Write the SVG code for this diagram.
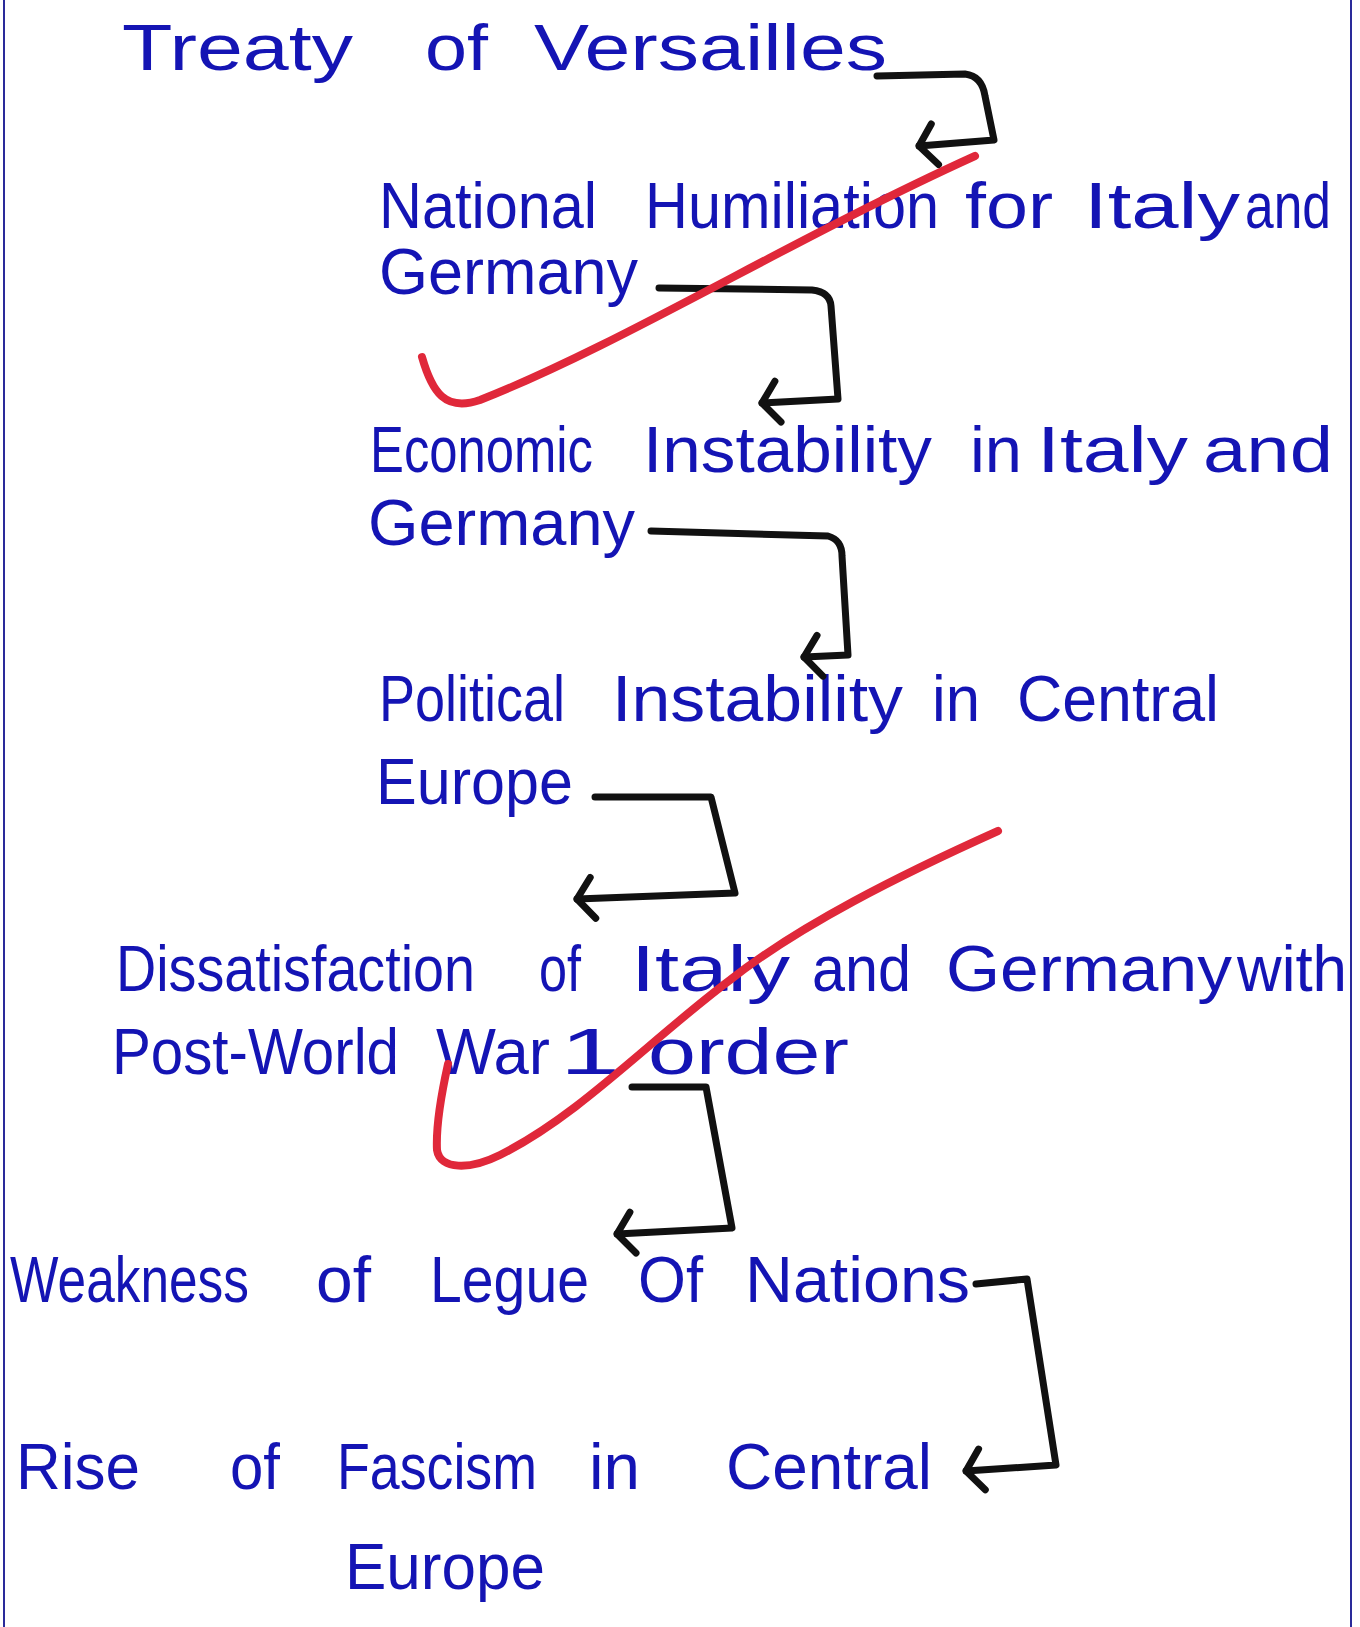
<svg xmlns="http://www.w3.org/2000/svg" width="1360" height="1627" viewBox="0 0 1360 1627">
<style>
.t{font-family:"Liberation Sans","DejaVu Sans",sans-serif;font-size:64px;fill:#1414b4}
.c{fill:none;stroke:#111;stroke-width:7;stroke-linecap:round;stroke-linejoin:round}
.r{fill:none;stroke:#e0283a;stroke-width:8;stroke-linecap:round;stroke-linejoin:round}
.b{stroke:#2a2a9a;stroke-width:2}
</style>
<defs>
<marker id="ah" markerUnits="userSpaceOnUse" markerWidth="50" markerHeight="50" viewBox="-30 -25 50 50" refX="0" refY="0" orient="auto">
<path d="M -18 -20 L 0 0 L -14 21" fill="none" stroke="#111" stroke-width="7" stroke-linecap="round" stroke-linejoin="round"/>
</marker>
</defs>
<rect width="1360" height="1627" fill="#ffffff"/>
<line class="b" x1="4" y1="0" x2="4" y2="1627"/>
<line class="b" x1="1351" y1="0" x2="1351" y2="1627"/>

<g id="n1">
<text class="t" x="122" y="70" textLength="231" lengthAdjust="spacingAndGlyphs">Treaty</text>
<text class="t" x="425" y="70" textLength="63" lengthAdjust="spacingAndGlyphs">of</text>
<text class="t" x="534" y="70" textLength="353" lengthAdjust="spacingAndGlyphs">Versailles</text>
</g>
<g id="n2">
<text class="t" x="379" y="228" textLength="218" lengthAdjust="spacingAndGlyphs">National</text>
<text class="t" x="645" y="228" textLength="294" lengthAdjust="spacingAndGlyphs">Humiliation</text>
<text class="t" x="965" y="228" textLength="88" lengthAdjust="spacingAndGlyphs">for</text>
<text class="t" x="1084" y="228" textLength="156" lengthAdjust="spacingAndGlyphs">Italy</text>
<text class="t" x="1245" y="228" textLength="86" lengthAdjust="spacingAndGlyphs">and</text>
<text class="t" x="379" y="294" textLength="259" lengthAdjust="spacingAndGlyphs">Germany</text>
</g>
<g id="n3">
<text class="t" x="370" y="472" textLength="223" lengthAdjust="spacingAndGlyphs">Economic</text>
<text class="t" x="643" y="472" textLength="289" lengthAdjust="spacingAndGlyphs">Instability</text>
<text class="t" x="970" y="472" textLength="52" lengthAdjust="spacingAndGlyphs">in</text>
<text class="t" x="1037" y="472" textLength="151" lengthAdjust="spacingAndGlyphs">Italy</text>
<text class="t" x="1203" y="472" textLength="130" lengthAdjust="spacingAndGlyphs">and</text>
<text class="t" x="368" y="545" textLength="267" lengthAdjust="spacingAndGlyphs">Germany</text>
</g>
<g id="n4">
<text class="t" x="379" y="721" textLength="186" lengthAdjust="spacingAndGlyphs">Political</text>
<text class="t" x="612" y="721" textLength="291" lengthAdjust="spacingAndGlyphs">Instability</text>
<text class="t" x="932" y="721" textLength="48" lengthAdjust="spacingAndGlyphs">in</text>
<text class="t" x="1017" y="721" textLength="202" lengthAdjust="spacingAndGlyphs">Central</text>
<text class="t" x="376" y="804" textLength="197" lengthAdjust="spacingAndGlyphs">Europe</text>
</g>
<g id="n5">
<text class="t" x="116" y="991" textLength="359" lengthAdjust="spacingAndGlyphs">Dissatisfaction</text>
<text class="t" x="539" y="991" textLength="42" lengthAdjust="spacingAndGlyphs">of</text>
<text class="t" x="631" y="991" textLength="159" lengthAdjust="spacingAndGlyphs">Italy</text>
<text class="t" x="812" y="991" textLength="99" lengthAdjust="spacingAndGlyphs">and</text>
<text class="t" x="946" y="991" textLength="286" lengthAdjust="spacingAndGlyphs">Germany</text>
<text class="t" x="1237" y="991" textLength="110" lengthAdjust="spacingAndGlyphs">with</text>
<text class="t" x="112" y="1074" textLength="287" lengthAdjust="spacingAndGlyphs">Post-World</text>
<text class="t" x="436" y="1074" textLength="114" lengthAdjust="spacingAndGlyphs">War</text>
<text class="t" x="560" y="1074" textLength="60" lengthAdjust="spacingAndGlyphs">1</text>
<text class="t" x="648" y="1074" textLength="201" lengthAdjust="spacingAndGlyphs">order</text>
</g>
<g id="n6">
<text class="t" x="10" y="1302" textLength="239" lengthAdjust="spacingAndGlyphs">Weakness</text>
<text class="t" x="316" y="1302" textLength="55" lengthAdjust="spacingAndGlyphs">of</text>
<text class="t" x="430" y="1302" textLength="159" lengthAdjust="spacingAndGlyphs">Legue</text>
<text class="t" x="638" y="1302" textLength="65" lengthAdjust="spacingAndGlyphs">Of</text>
<text class="t" x="745" y="1302" textLength="225" lengthAdjust="spacingAndGlyphs">Nations</text>
</g>
<g id="n7">
<text class="t" x="16" y="1489" textLength="124" lengthAdjust="spacingAndGlyphs">Rise</text>
<text class="t" x="230" y="1489" textLength="50" lengthAdjust="spacingAndGlyphs">of</text>
<text class="t" x="337" y="1489" textLength="200" lengthAdjust="spacingAndGlyphs">Fascism</text>
<text class="t" x="589" y="1489" textLength="51" lengthAdjust="spacingAndGlyphs">in</text>
<text class="t" x="726" y="1489" textLength="206" lengthAdjust="spacingAndGlyphs">Central</text>
<text class="t" x="345" y="1589" textLength="200" lengthAdjust="spacingAndGlyphs">Europe</text>
</g>

<g id="connectors">
<path class="c" marker-end="url(#ah)" d="M 877 76 L 965 74 Q 982 76 985 96 L 994 140 L 919 146"/>
<path class="c" marker-end="url(#ah)" d="M 659 288 L 812 290 Q 830 292 831 306 L 838 399 L 762 403"/>
<path class="c" marker-end="url(#ah)" d="M 651 531 L 828 536 Q 842 540 842 556 L 848 655 L 804 657"/>
<path class="c" marker-end="url(#ah)" d="M 595 797 L 711 797 L 735 893 L 577 899"/>
<path class="c" marker-end="url(#ah)" d="M 632 1087 L 706 1087 L 732 1228 L 617 1234"/>
<path class="c" marker-end="url(#ah)" d="M 976 1284 L 1027 1279 L 1056 1465 L 966 1471"/>
<path class="r" d="M 422 357 C 432 392, 445 412, 480 400 C 620 345, 790 240, 975 156"/>
<path class="r" d="M 448 1064 C 440 1100, 436 1130, 437 1150 C 440 1170, 470 1170, 500 1155 C 580 1115, 650 1040, 730 980 C 800 925, 900 875, 998 831"/>
</g>
</svg>
